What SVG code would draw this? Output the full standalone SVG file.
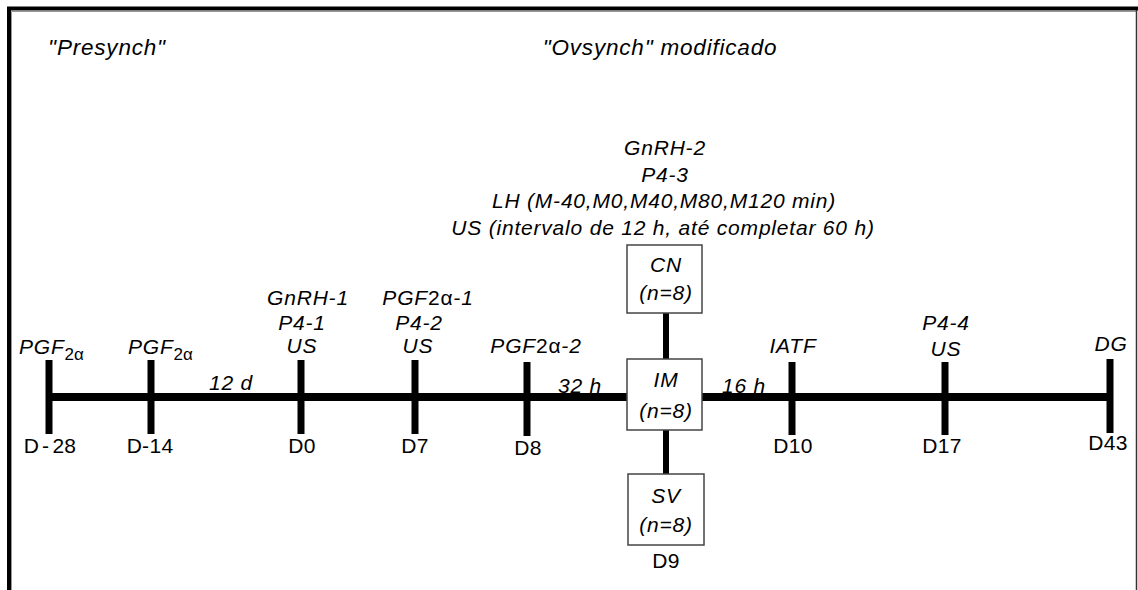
<svg xmlns="http://www.w3.org/2000/svg" width="1138" height="590" viewBox="0 0 1138 590">
<style>
.it{font-family:"Liberation Sans",Arial,sans-serif;font-style:italic;font-size:21px;letter-spacing:0.8px;fill:#000;text-anchor:middle}
.ttl{font-family:"Liberation Sans",Arial,sans-serif;font-style:italic;font-size:22.5px;letter-spacing:0.8px;fill:#000;text-anchor:middle}
.nm{font-family:"Liberation Sans",Arial,sans-serif;font-size:21px;letter-spacing:0.3px;fill:#000;text-anchor:middle}
.sub{font-style:normal;font-size:17px;letter-spacing:0}
.up{font-style:normal}
.tick{stroke:#000;stroke-width:7}
.bar{stroke:#000;stroke-width:8;fill:none}
.box{fill:#fff;stroke:#444;stroke-width:1.5}
</style>
<rect width="1138" height="590" fill="#fff"/>
<g id="frame" fill="none">
<line x1="11.5" y1="11.5" x2="1136" y2="11.5" stroke="#999" stroke-width="1"/>
<line x1="11.5" y1="11.5" x2="11.5" y2="590" stroke="#999" stroke-width="1"/>
<line x1="7" y1="8.5" x2="1138" y2="8.5" stroke="#000" stroke-width="4"/>
<line x1="9" y1="7" x2="9" y2="590" stroke="#000" stroke-width="4"/>
<line x1="1136.5" y1="10" x2="1136.5" y2="590" stroke="#333" stroke-width="1.5"/>
</g>
<g id="titles">
<text class="ttl" x="107" y="55">"Presynch"</text>
<text class="ttl" x="660" y="55">"Ovsynch" modificado</text>
</g>
<g id="interval-labels">
<text class="it" x="231" y="390">12 d</text>
<text class="it" x="580" y="393">32 h</text>
<text class="it" x="744" y="393">16 h</text>
</g>
<g id="connectors">
<line class="bar" x1="49" y1="397" x2="627" y2="397"/>
<line class="bar" x1="702" y1="397" x2="1110" y2="397"/>
<line x1="666" y1="313" x2="666" y2="359" stroke="#000" stroke-width="6"/>
<line x1="666" y1="430" x2="666" y2="474" stroke="#000" stroke-width="6"/>
</g>
<g id="d-28">
<line class="tick" x1="49" y1="360" x2="49" y2="434"/>
<text class="it" x="19" y="354" style="text-anchor:start">PGF<tspan class="sub" dy="6">2α</tspan></text>
<text class="nm" x="50" y="453">D<tspan dx="3">-</tspan><tspan dx="3">28</tspan></text>
</g>
<g id="d-14">
<line class="tick" x1="151" y1="360" x2="151" y2="434"/>
<text class="it" x="128" y="354" style="text-anchor:start">PGF<tspan class="sub" dy="6">2α</tspan></text>
<text class="nm" x="150" y="453">D-14</text>
</g>
<g id="d0">
<line class="tick" x1="301" y1="360" x2="301" y2="434"/>
<text class="it" x="308" y="305">GnRH-1</text>
<text class="it" x="302" y="330">P4-1</text>
<text class="it" x="302" y="353">US</text>
<text class="nm" x="302" y="453">D0</text>
</g>
<g id="d7">
<line class="tick" x1="415" y1="360" x2="415" y2="434"/>
<text class="it" x="428" y="305">PGF<tspan class="up">2α</tspan>-1</text>
<text class="it" x="419" y="330">P4-2</text>
<text class="it" x="418" y="353">US</text>
<text class="nm" x="415" y="453">D7</text>
</g>
<g id="d8">
<line class="tick" x1="527" y1="362" x2="527" y2="436"/>
<text class="it" x="536" y="353">PGF<tspan class="up">2α</tspan>-2</text>
<text class="nm" x="528" y="455">D8</text>
</g>
<g id="gnrh2-label">
<text class="it" x="665" y="155">GnRH-2</text>
<text class="it" x="665" y="182">P4-3</text>
<text class="it" x="664" y="208">LH (M-40,M0,M40,M80,M120 min)</text>
<text class="it" x="663" y="235">US (intervalo de 12 h, até completar 60 h)</text>
</g>
<g id="cn">
<rect class="box" x="627" y="245" width="75" height="68"/>
<text class="it" x="666" y="272">CN</text>
<text class="it" x="666" y="300">(n=8)</text>
</g>
<g id="im">
<rect class="box" x="627" y="359" width="75" height="71"/>
<text class="it" x="666" y="387">IM</text>
<text class="it" x="666" y="418">(n=8)</text>
</g>
<g id="sv">
<rect class="box" x="628" y="474" width="76" height="71"/>
<text class="it" x="666" y="503">SV</text>
<text class="it" x="666" y="532">(n=8)</text>
<text class="nm" x="666" y="568">D9</text>
</g>
<g id="d10">
<line class="tick" x1="792" y1="362" x2="792" y2="435"/>
<text class="it" x="793" y="353">IATF</text>
<text class="nm" x="793" y="453">D10</text>
</g>
<g id="d17">
<line class="tick" x1="945" y1="362" x2="945" y2="435"/>
<text class="it" x="946" y="330">P4-4</text>
<text class="it" x="946" y="356">US</text>
<text class="nm" x="942" y="453">D17</text>
</g>
<g id="d43">
<line class="tick" x1="1110" y1="359" x2="1110" y2="433"/>
<text class="it" x="1111" y="351">DG</text>
<text class="nm" x="1108" y="450">D43</text>
</g>
</svg>
